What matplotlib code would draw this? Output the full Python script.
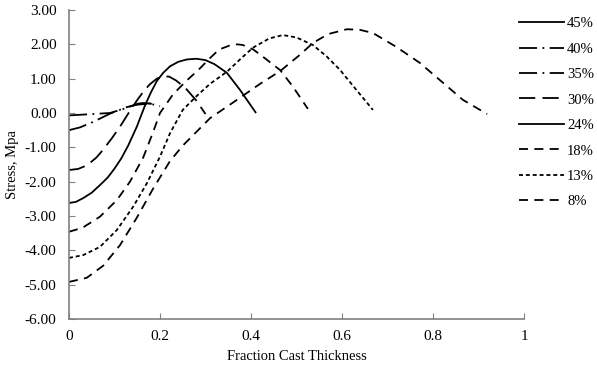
import matplotlib
matplotlib.use("Agg")
import matplotlib.pyplot as plt

plt.rcParams['font.family'] = ['Liberation Serif', 'DejaVu Serif']

# fraction of cast thickness vs stress (Mpa)
x45 = [0.15, 0.165, 0.18]
y45 = [0.27, 0.29, 0.27]

x40 = [0, 0.04, 0.09, 0.12, 0.145, 0.178, 0.2]
y40 = [-0.07, -0.04, 0.0, 0.12, 0.24, 0.27, 0.2]

x35 = [0, 0.024, 0.053, 0.09, 0.127, 0.156, 0.18]
y35 = [-0.5, -0.42, -0.26, -0.02, 0.17, 0.27, 0.28]

x30 = [0, 0.02, 0.04, 0.06, 0.075, 0.095, 0.112, 0.13, 0.149, 0.165, 0.178, 0.193, 0.207, 0.22, 0.235, 0.255, 0.28, 0.3]
y30 = [-1.66, -1.63, -1.52, -1.3, -1.07, -0.72, -0.4, -0.02, 0.36, 0.65, 0.84, 1.0, 1.07, 1.06, 0.95, 0.74, 0.36, -0.03]

x24 = [0, 0.015, 0.031, 0.05, 0.068, 0.085, 0.1, 0.115, 0.13, 0.149, 0.167, 0.18, 0.193, 0.207, 0.222, 0.24, 0.259, 0.28, 0.3, 0.32, 0.347, 0.376, 0.41]
y24 = [-2.62, -2.59, -2.48, -2.32, -2.1, -1.88, -1.62, -1.32, -0.95, -0.4, 0.22, 0.6, 0.93, 1.17, 1.36, 1.49, 1.56, 1.58, 1.54, 1.42, 1.17, 0.67, 0.02]

x18 = [0, 0.03, 0.068, 0.105, 0.134, 0.163, 0.185, 0.2, 0.229, 0.259, 0.284, 0.31, 0.33, 0.354, 0.37, 0.382, 0.405, 0.426, 0.464, 0.492, 0.525]
y18 = [-3.46, -3.34, -3.02, -2.54, -2.0, -1.3, -0.55, 0.0, 0.55, 0.95, 1.25, 1.6, 1.85, 1.97, 2.0, 1.98, 1.85, 1.64, 1.25, 0.77, 0.12]

x13 = [0, 0.031, 0.068, 0.105, 0.141, 0.171, 0.2, 0.222, 0.25, 0.281, 0.31, 0.347, 0.375, 0.404, 0.44, 0.47, 0.5, 0.536, 0.566, 0.596, 0.633, 0.668]
y13 = [-4.22, -4.14, -3.9, -3.41, -2.73, -2.05, -1.27, -0.59, 0.09, 0.5, 0.85, 1.2, 1.55, 1.9, 2.17, 2.27, 2.2, 1.98, 1.65, 1.25, 0.65, 0.09]

x8 = [0, 0.039, 0.075, 0.112, 0.149, 0.185, 0.222, 0.25, 0.28, 0.31, 0.36, 0.42, 0.464, 0.508, 0.536, 0.57, 0.611, 0.64, 0.668, 0.72, 0.771, 0.815, 0.866, 0.919]
y8 = [-4.92, -4.8, -4.45, -3.85, -3.05, -2.2, -1.4, -0.95, -0.55, -0.15, 0.3, 0.85, 1.22, 1.7, 2.04, 2.3, 2.44, 2.42, 2.33, 1.92, 1.46, 0.96, 0.38, -0.03]

fig = plt.figure(figsize=(5.97, 3.66), dpi=100)
ax = fig.add_axes([0.1156, 0.1284, 0.7621, 0.8443])

lw = 1.3
ax.plot(x45, y45, color='black', lw=lw, ls='-', label='45%')
ax.plot(x40, y40, color='black', lw=lw, ls=(0, (10, 3, 1, 3)), label='40%')
ax.plot(x35, y35, color='black', lw=lw, ls=(0, (10, 3, 1, 3)), label='35%')
ax.plot(x30, y30, color='black', lw=lw, ls=(0, (9, 4)), label='30%')
ax.plot(x24, y24, color='black', lw=lw, ls='-', label='24%')
ax.plot(x18, y18, color='black', lw=lw, ls=(0, (5, 3.5)), label='18%')
ax.plot(x13, y13, color='black', lw=lw, ls=(0, (2.2, 1.6)), label='13%')
ax.plot(x8, y8, color='black', lw=lw, ls=(0, (5, 3.5)), label='8%')

ax.set_xlim(0, 1)
ax.set_ylim(-6, 3)
ax.set_xticks([0, 0.2, 0.4, 0.6, 0.8, 1])
ax.set_xticklabels(['0', '0.2', '0.4', '0.6', '0.8', '1'])
ax.set_yticks(range(-6, 4))
ax.set_yticklabels(['%.2f' % v for v in range(-6, 4)])
ax.tick_params(direction='in', length=4, color='#808080', labelsize=11)
ax.tick_params(axis='y', pad=9)
ax.tick_params(axis='x', pad=8)
for s in ['top', 'right']:
    ax.spines[s].set_visible(False)
for s in ['left', 'bottom']:
    ax.spines[s].set_color('#808080')
    ax.spines[s].set_linewidth(1.2)

ax.set_xlabel('Fraction Cast Thickness', fontsize=10.5, labelpad=5)
ax.set_ylabel('Stress, Mpa', fontsize=10.5, labelpad=4)

ax.legend(loc='upper left', bbox_to_anchor=(519 / 597, 1 - 17 / 366), bbox_transform=fig.transFigure,
          frameon=False, fontsize=10.5, handlelength=3.1, labelspacing=0.84, handletextpad=0.2,
          borderaxespad=0.0, borderpad=0.0)

fig.savefig('out.png', dpi=100)
